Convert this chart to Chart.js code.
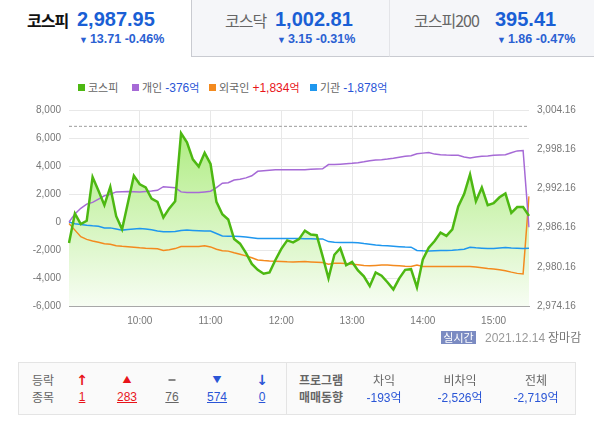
<!DOCTYPE html>
<html lang="ko">
<head>
<meta charset="utf-8">
<title>코스피 투자자별 매매동향</title>
<script src="https://cdn.jsdelivr.net/npm/chart.js@4.4.1/dist/chart.umd.min.js"></script>
<style>
body { margin:0; width:594px; height:422px; position:relative; overflow:hidden; background:#fff;
       font-family:"Noto Sans CJK KR","Noto Sans",sans-serif; color:#555; }
.tab { position:absolute; top:0; box-sizing:border-box; }
.tab1 { left:0; width:191px; height:56px; background:#fff; }
.tab2 { left:191px; width:198px; height:57px; background:#f5f6f9; border-left:1px solid #c9cbd1; border-bottom:1px solid #c9cbd1; }
.tab3 { left:389px; width:205px; height:57px; background:#f5f6f9; border-left:1px solid #e3e4e8; border-bottom:1px solid #c9cbd1; }
.nm { position:absolute; top:8px; font-size:16px; line-height:24px; letter-spacing:-1px; color:#666; white-space:nowrap; }
.tab1 .nm { color:#111; font-weight:bold; }
.val { position:absolute; top:7px; font:bold 20px/24px "Liberation Sans",Arial,sans-serif; color:#1a5fd5; }
.sub { position:absolute; top:32px; font:bold 12.5px/15px "Liberation Sans",Arial,sans-serif; color:#2a60d2; white-space:nowrap; }
.sub b { font-size:9px; font-weight:normal; margin-right:2px; }
.lg { position:absolute; top:79px; font-size:11px; line-height:16px; color:#666; white-space:nowrap; }
.lg i { display:inline-block; width:7px; height:7px; margin-right:3px; vertical-align:1px; }
.lg em { font-style:normal; font-family:"Liberation Sans",Arial,sans-serif; font-size:12px; margin-left:3px; }
.lg em span { font-family:"Noto Sans CJK KR",sans-serif; font-size:11px; }
#chart { position:absolute; left:0; top:96px; }
.badge { position:absolute; left:441px; top:331px; width:35px; height:13px; line-height:13px; background:#7b8bc2;
         color:#fff; font-size:11px; text-align:center; }
.date { position:absolute; left:485px; top:329px; line-height:16px; font:12px/16px "Liberation Sans",Arial,sans-serif; color:#999; white-space:nowrap; }
.date span { font-family:"Noto Sans CJK KR",sans-serif; color:#777; margin-left:3px; }
.box { position:absolute; left:18px; top:362px; width:558px; height:53px; box-sizing:border-box; border:1px solid #e4e4e4; background:#fafafa; }
.div { position:absolute; left:286px; top:362px; width:1px; height:53px; background:#e4e4e4; }
.c { position:absolute; transform:translateX(-50%); font-size:12px; line-height:16px; white-space:nowrap; color:#666; }
.r1 { top:372px; } .r2 { top:389px; }
.n { font-family:"Liberation Sans",Arial,sans-serif; text-decoration:underline; }
.red { color:#e8141a; } .blue { color:#2a55d6; } .gray { color:#666; }
.bar { display:inline-block; width:7px; height:2px; background:#888; vertical-align:4px; }
</style>
</head>
<body>

<div class="tab tab1">
  <span class="nm" style="left:27px">코스피</span>
  <span class="val" style="left:77px">2,987.95</span>
  <span class="sub" style="left:79px"><b>▼</b>13.71 -0.46%</span>
</div>
<div class="tab tab2">
  <span class="nm" style="left:33px">코스닥</span>
  <span class="val" style="left:83px">1,002.81</span>
  <span class="sub" style="left:85px"><b>▼</b>3.15 -0.31%</span>
</div>
<div class="tab tab3">
  <span class="nm" style="left:24px">코스피200</span>
  <span class="val" style="left:105px">395.41</span>
  <span class="sub" style="left:107px"><b>▼</b>1.86 -0.47%</span>
</div>

<div id="legend"></div>
<canvas id="chart" width="594" height="234"></canvas>

<span class="badge">실시간</span>
<span class="date">2021.12.14<span>장마감</span></span>

<div class="box"></div>
<div class="div"></div>
<span class="c r1" style="left:43px">등락</span>
<span class="c r2" style="left:43px">종목</span>
<span class="c r1 red" style="left:82px;font:bold 14px/16px 'DejaVu Sans'">↑</span>
<span class="c r2 n red" style="left:82px">1</span>
<span class="c r1 red" style="left:127px;font-size:9px">▲</span>
<span class="c r2 n red" style="left:127px">283</span>
<span class="c r1" style="left:172px"><span class="bar"></span></span>
<span class="c r2 n gray" style="left:172px">76</span>
<span class="c r1 blue" style="left:217px;font-size:9px">▼</span>
<span class="c r2 n blue" style="left:217px">574</span>
<span class="c r1 blue" style="left:262px;font:bold 14px/16px 'DejaVu Sans'">↓</span>
<span class="c r2 n blue" style="left:262px">0</span>
<span class="c r1" style="left:321px;font-weight:bold">프로그램</span>
<span class="c r2" style="left:321px;font-weight:bold">매매동향</span>
<span class="c r1" style="left:384px">차익</span>
<span class="c r2 blue" style="left:384px"><span style="font-family:'Liberation Sans'">-193</span>억</span>
<span class="c r1" style="left:460px">비차익</span>
<span class="c r2 blue" style="left:460px"><span style="font-family:'Liberation Sans'">-2,526</span>억</span>
<span class="c r1" style="left:536px">전체</span>
<span class="c r2 blue" style="left:536px"><span style="font-family:'Liberation Sans'">-2,719</span>억</span>

<script>
// 5-minute points, 09:00 - 15:30
const times = [];
for (let m = 0; m <= 390; m += 5) {
    const h = 9 + Math.floor(m / 60), mm = m % 60;
    times.push((h < 10 ? '0' : '') + h + ':' + (mm < 10 ? '0' : '') + mm);
}

// 코스피 index (right axis)
const kospi = [
    2983.8, 2988.3, 2986.7, 2987.2, 2993.9, 2991.8, 2989.6, 2992.4, 2987.9, 2985.9,
    2990.0, 2994.1, 2992.8, 2992.3, 2990.6, 2990.1, 2987.7, 2989.1, 2990.2, 3000.6,
    2999.2, 2996.6, 2995.5, 2997.6, 2995.9, 2990.1, 2988.2, 2987.4, 2984.4, 2983.7,
    2982.3, 2980.6, 2979.7, 2979.1, 2979.3, 2981.2, 2982.9, 2984.2, 2983.9, 2984.4,
    2985.7, 2985.1, 2985.0, 2981.8, 2978.4, 2982.0, 2983.0, 2980.4, 2980.9, 2979.6,
    2978.7, 2977.2, 2979.3, 2978.8, 2977.8, 2976.7, 2978.4, 2979.7, 2979.8, 2977.0,
    2981.3, 2983.1, 2984.1, 2985.4, 2984.9, 2985.9, 2989.4, 2991.3, 2994.3, 2990.2,
    2992.3, 2989.6, 2989.9, 2990.8, 2991.4, 2988.4, 2989.3, 2989.3, 2987.95
];

// 개인 / 외국인 / 기관 net buying, 억원 (left axis)
const individual = [
    0, 580, 980, 1280, 1400, 1630, 1870, 1980, 2150, 2160,
    2170, 2160, 2150, 2180, 2210, 2260, 2520, 2490, 2450, 2150,
    2100, 2100, 2100, 2150, 2200, 2450, 2770, 2800, 3000, 3050,
    3150, 3300, 3620, 3660, 3700, 3730, 3730, 3730, 3730, 3730,
    3740, 3760, 3780, 3800, 4100, 4100, 4130, 4160, 4190, 4230,
    4300, 4380, 4420, 4450, 4500, 4560, 4630, 4690, 4730, 4870,
    4920, 4970, 4850, 4800, 4780, 4770, 4760, 4650, 4570, 4640,
    4690, 4720, 4760, 4780, 4800, 4950, 5080, 5110, -376
];
const foreign = [
    -100, -580, -1050, -1240, -1350, -1450, -1560, -1590, -1700, -1740,
    -1770, -1800, -1840, -1870, -1890, -1910, -2030, -1980, -1900, -1750,
    -1750, -1750, -1750, -1700, -1780, -1950, -2050, -2080, -2200, -2300,
    -2420, -2550, -2710, -2750, -2780, -2800, -2820, -2840, -2850, -2840,
    -2830, -2850, -2870, -2900, -3010, -2950, -2940, -2960, -3010, -3060,
    -3110, -3130, -3100, -3080, -3080, -3100, -3130, -3160, -3180, -3080,
    -3180, -3180, -3180, -3180, -3180, -3180, -3180, -3180, -3180, -3220,
    -3270, -3320, -3360, -3410, -3480, -3580, -3670, -3710, 1834
];
const institution = [
    0, -120, -180, -230, -270, -300, -420, -420, -500, -580,
    -540, -500, -470, -500, -560, -640, -700, -700, -680, -600,
    -580, -600, -620, -640, -650, -820, -1000, -1010, -1020, -1040,
    -1080, -1120, -1170, -1170, -1170, -1170, -1170, -1170, -1170, -1180,
    -1190, -1200, -1210, -1210, -1400, -1440, -1460, -1470, -1470, -1480,
    -1540, -1590, -1640, -1680, -1700, -1730, -1760, -1790, -1800, -2030,
    -2060, -2080, -2060, -2040, -2030, -2010, -1980, -1940, -1800, -1840,
    -1870, -1900, -1900, -1860, -1820, -1850, -1870, -1890, -1878
];

const prevClose = 3001.66;  // 전일 종가 (dotted line)
const flowTicks = [-6000, -4000, -2000, 0, 2000, 4000, 6000, 8000];
const indexTicks = [2974.16, 2980.16, 2986.16, 2992.16, 2998.16, 3004.16];

const COLORS = { kospi: '#4db812', indiv: '#a66ad6', foreign: '#f38a1e', inst: '#1f97ee' };

// legend, values taken from the last point of each series
function fmtFlow(v) {
    const s = Math.abs(v).toLocaleString('en-US');
    const cls = v > 0 ? 'red' : 'blue';
    return '<em class="' + cls + '">' + (v > 0 ? '+' : '-') + s + '<span>억</span></em>';
}
const last = a => a[a.length - 1];
document.getElementById('legend').innerHTML =
    '<span class="lg" style="left:78px"><i style="background:' + COLORS.kospi + '"></i>코스피</span>' +
    '<span class="lg" style="left:132px"><i style="background:' + COLORS.indiv + '"></i>개인' + fmtFlow(last(individual)) + '</span>' +
    '<span class="lg" style="left:209px"><i style="background:' + COLORS.foreign + '"></i>외국인' + fmtFlow(last(foreign)) + '</span>' +
    '<span class="lg" style="left:310px"><i style="background:' + COLORS.inst + '"></i>기관' + fmtFlow(last(institution)) + '</span>';

const tickFont = { family: "'Liberation Sans', Arial, sans-serif", size: 10 };

function greenFill(c) {
    const a = c.chart.chartArea;
    if (!a) return 'transparent';
    const g = c.chart.ctx.createLinearGradient(0, a.top, 0, a.bottom);
    g.addColorStop(0, '#a6ea74');
    g.addColorStop(1, '#f7fdf3');
    return g;
}

function lineSet(label, data, color, axis, width) {
    return {
        label: label, data: data, yAxisID: axis,
        borderColor: color, borderWidth: width,
        pointRadius: 0, tension: 0, fill: false
    };
}

const kospiSet = lineSet('코스피', kospi, COLORS.kospi, 'y1', 2.5);
kospiSet.fill = 'start';
kospiSet.backgroundColor = greenFill;

const prevSet = lineSet('전일종가', times.map(() => prevClose), '#9c9c9c', 'y1', 1);
prevSet.borderDash = [3, 2];

new Chart(document.getElementById('chart'), {
    type: 'line',
    data: {
        labels: times,
        datasets: [
            kospiSet,
            lineSet('개인', individual, COLORS.indiv, 'y', 1.5),
            lineSet('기관', institution, COLORS.inst, 'y', 1.5),
            lineSet('외국인', foreign, COLORS.foreign, 'y', 1.5),
            prevSet
        ]
    },
    options: {
        responsive: false,
        animation: false,
        layout: { autoPadding: false, padding: { top: 10, left: 0, right: 0, bottom: 0 } },
        plugins: {
            legend: { display: false },
            tooltip: { enabled: false },
            filler: { drawTime: 'beforeDatasetsDraw' }
        },
        scales: {
            x: {
                afterFit: s => { s.height = 24; },
                border: { color: '#a8a8a8' },
                grid: {
                    color: c => (c.index > 0 && c.index % 12 === 0) ? '#e8e8e8' : 'rgba(0,0,0,0)',
                    tickColor: c => (c.index % 12 === 0) ? '#a8a8a8' : 'rgba(0,0,0,0)',
                    tickLength: -5
                },
                ticks: {
                    autoSkip: false, maxRotation: 0, padding: 14,
                    color: '#777', font: tickFont,
                    callback: (v, i) => (i > 0 && i % 12 === 0) ? times[i] : ''
                }
            },
            y: {
                position: 'left',
                min: -6000, max: 8000,
                afterFit: s => { s.width = 69; },
                afterBuildTicks: s => { s.ticks = flowTicks.map(v => ({ value: v })); },
                border: { display: false },
                grid: { color: '#e8e8e8', drawTicks: false },
                ticks: {
                    padding: 8, color: '#777', font: tickFont,
                    callback: v => v.toLocaleString('en-US')
                }
            },
            y1: {
                position: 'right',
                min: 2974.16, max: 3004.16,
                afterFit: s => { s.width = 65; },
                afterBuildTicks: s => { s.ticks = indexTicks.map(v => ({ value: v })); },
                border: { display: false },
                grid: { drawOnChartArea: false, drawTicks: false },
                ticks: {
                    padding: 8, color: '#777', font: tickFont,
                    callback: v => v.toLocaleString('en-US', { minimumFractionDigits: 2, maximumFractionDigits: 2 })
                }
            }
        }
    }
});
</script>
</body>
</html>
